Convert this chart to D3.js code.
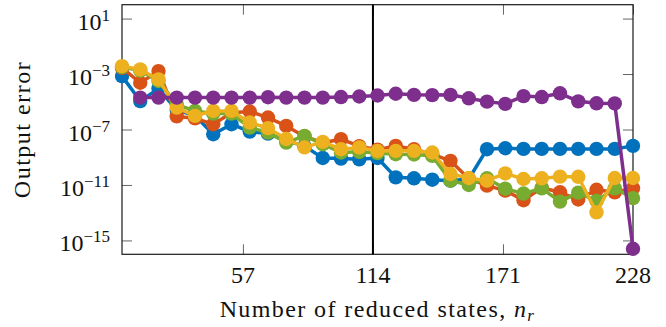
<!DOCTYPE html>
<html>
<head>
<meta charset="utf-8">
<script src="https://cdn.jsdelivr.net/npm/d3@7"></script>
<style>
  html, body { margin: 0; padding: 0; background: #fff; }
  svg { display: block; }
</style>
</head>
<body>
<script>
// Number of reduced states at which the output error was evaluated
const states = [4, 12, 20, 28, 36, 44, 52, 60, 68, 76, 84, 92, 100, 108, 116,
                124, 132, 140, 148, 156, 164, 172, 180, 188, 196, 204, 212, 220, 228];

// log10 of the output error for each reduction method (null = not computed)
const blueLog = [-3.15, -4.95, -4.05, -5.6, -6.0, -7.34, -6.62, -7.15, -7.3, -7.8, -8.2, -9.05, -9.1, -9.15, -9.05,
                 -10.45, -10.52, -10.62, -10.69, -10.57, -8.42, -8.35, -8.4, -8.4, -8.4, -8.4, -8.4, -8.4, -8.18];
const orangeLog = [-2.55, -3.63, -2.79, -6.05, -6.2, -6.62, -5.8, -5.7, -6.14, -6.74, -7.5, -7.95, -7.7, -8.2, -8.45,
                   -8.18, -8.42, -8.78, -9.26, -10.55, -11.05, -11.41, -12.1, -11.2, -11.53, -12.05, -11.35, -11.53, -11.24];
const greenLog = [-2.5, -2.75, -3.5, -5.2, -5.66, -5.85, -5.85, -6.86, -7.22, -7.94, -7.46, -8.06, -8.66, -8.61, -8.7,
                  -8.78, -8.8, -8.9, -10.69, -11.0, -10.52, -11.27, -11.62, -11.24, -12.2, -11.55, -12.15, -11.24, -11.95];
const yellowLog = [-2.43, -2.67, -3.39, -5.42, -6.02, -5.66, -5.66, -6.5, -6.9, -7.68, -8.29, -7.89, -8.42, -8.29, -8.55,
                   -8.54, -8.54, -8.66, -10.21, -10.5, -10.69, -10.17, -10.57, -10.52, -10.4, -10.41, -12.98, -10.5, -10.5];
const purpleLog = [null, -4.7, -4.7, -4.7, -4.7, -4.7, -4.7, -4.7, -4.67, -4.7, -4.7, -4.7, -4.66, -4.62, -4.55,
                   -4.42, -4.5, -4.52, -4.5, -4.75, -4.99, -5.15, -4.59, -4.66, -4.39, -4.97, -5.11, -5.12, -15.6];

const seriesColors = ["#0072BD", "#D95319", "#77AC30", "#EDB120", "#7E2F8E"];
const seriesLogs = [blueLog, orangeLog, greenLog, yellowLog, purpleLog];

const xTicks = [57, 114, 171, 228];
const yTicks = [1e1, 1e-3, 1e-7, 1e-11, 1e-15];
const markerLine = 114;

const W = 666, H = 327;
const plot = { left: 122, right: 633, top: 4.7, bottom: 254.3 };
const FONT = '"Liberation Serif"';

const svg = d3.select("body").append("svg").attr("width", W).attr("height", H);

const x = d3.scaleLinear().domain([4, 228]).range([plot.left, plot.right]);
const y = d3.scaleLog().domain([1e-16, 1e2]).range([plot.bottom, plot.top]);

// inward ticks on all four sides
const tickLen = 10;
const gAxes = svg.append("g");
gAxes.append("g").attr("transform", `translate(0,${plot.bottom})`)
  .call(d3.axisBottom(x).tickValues(xTicks).tickSizeInner(-tickLen).tickSizeOuter(0).tickFormat(""));
gAxes.append("g").attr("transform", `translate(0,${plot.top})`)
  .call(d3.axisTop(x).tickValues(xTicks).tickSizeInner(-tickLen).tickSizeOuter(0).tickFormat(""));
gAxes.append("g").attr("transform", `translate(${plot.left},0)`)
  .call(d3.axisLeft(y).tickValues(yTicks).tickSizeInner(-tickLen).tickSizeOuter(0).tickFormat(""));
gAxes.append("g").attr("transform", `translate(${plot.right},0)`)
  .call(d3.axisRight(y).tickValues(yTicks).tickSizeInner(-tickLen).tickSizeOuter(0).tickFormat(""));
gAxes.selectAll(".domain").remove();
gAxes.selectAll(".tick line").attr("stroke", "#666").attr("stroke-width", 1);

// frame
svg.append("rect")
  .attr("x", plot.left).attr("y", plot.top)
  .attr("width", plot.right - plot.left).attr("height", plot.bottom - plot.top)
  .attr("fill", "none").attr("stroke", "#1a1a1a").attr("stroke-width", 1.2);

// vertical reference line
svg.append("line")
  .attr("x1", x(markerLine)).attr("x2", x(markerLine))
  .attr("y1", plot.top).attr("y2", plot.bottom)
  .attr("stroke", "#000").attr("stroke-width", 2);

// data series: line then markers, drawn in order
const line = d3.line()
  .defined(d => d.v != null)
  .x(d => x(d.n))
  .y(d => y(d.v));

seriesLogs.forEach((logs, i) => {
  const pts = states.map((n, k) => ({ n, v: logs[k] == null ? null : Math.pow(10, logs[k]) }));
  const g = svg.append("g");
  g.append("path").datum(pts)
    .attr("d", line)
    .attr("fill", "none")
    .attr("stroke", seriesColors[i])
    .attr("stroke-width", 3.5)
    .attr("stroke-linejoin", "round");
  g.selectAll("circle").data(pts.filter(d => d.v != null)).join("circle")
    .attr("cx", d => x(d.n)).attr("cy", d => y(d.v))
    .attr("r", 7.2)
    .attr("fill", seriesColors[i]);
});

// x tick labels
svg.append("g").selectAll("text").data(xTicks).join("text")
  .attr("x", d => x(d)).attr("y", 283)
  .attr("text-anchor", "middle")
  .style("font-family", FONT).style("font-size", "24px").style("fill", "#111")
  .text(d => d);

// y tick labels as powers of ten
const yl = svg.append("g").selectAll("text").data(yTicks).join("text")
  .attr("x", 110).attr("y", d => y(d) + 11)
  .attr("text-anchor", "end")
  .style("font-family", FONT).style("font-size", "24px").style("fill", "#111");
yl.append("tspan").text("10");
yl.append("tspan")
  .attr("dy", -9).style("font-size", "17px")
  .text(d => String(Math.round(Math.log10(d))).replace("-", "\u2212"));

// axis titles
const xt = svg.append("text")
  .attr("x", (plot.left + plot.right) / 2).attr("y", 317)
  .attr("text-anchor", "middle")
  .style("font-family", FONT).style("font-size", "24px").style("letter-spacing", "1.4px").style("fill", "#111");
xt.append("tspan").text("Number of reduced states, ");
xt.append("tspan").style("font-style", "italic").text("n");
xt.append("tspan").style("font-style", "italic").style("font-size", "17px").attr("dy", 4).text("r");

svg.append("text")
  .attr("transform", `translate(30,${(plot.top + plot.bottom) / 2}) rotate(-90)`)
  .attr("text-anchor", "middle")
  .style("font-family", FONT).style("font-size", "24px").style("letter-spacing", "1.5px").style("fill", "#111")
  .text("Output error");
</script>
</body>
</html>
